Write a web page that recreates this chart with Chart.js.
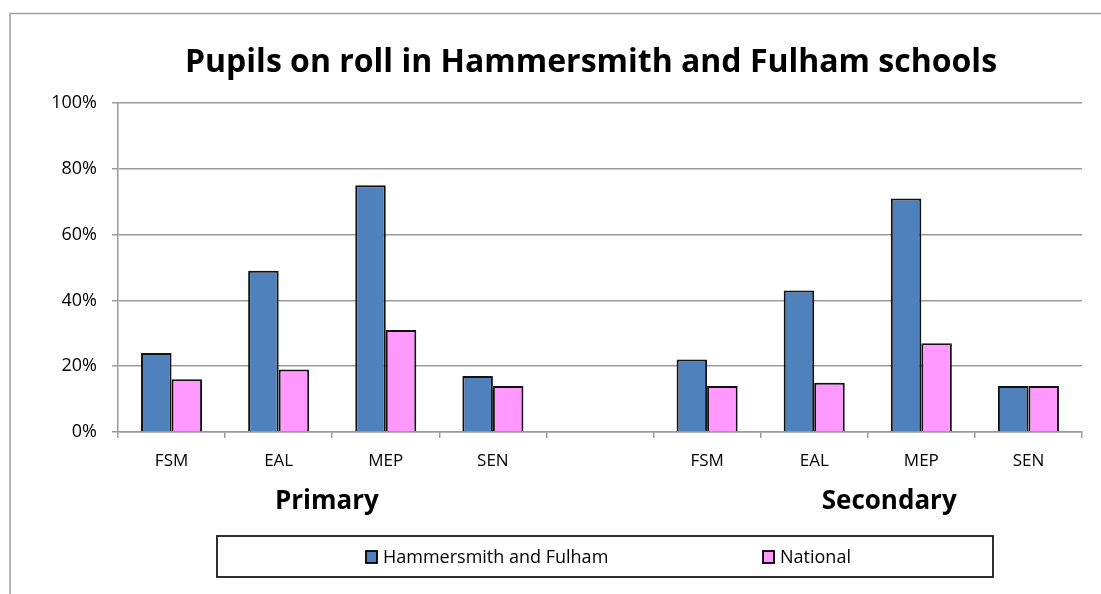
<!DOCTYPE html>
<html>
<head>
<meta charset="utf-8">
<script src="https://cdn.jsdelivr.net/npm/chart.js@4/dist/chart.umd.min.js"></script>
<style>
  html, body { margin: 0; padding: 0; background: #fff; }
  #wrap { position: absolute; left: 0; top: 0; width: 1101px; height: 594px; }
</style>
</head>
<body>
<div id="wrap"><canvas id="c" width="1101" height="594"></canvas></div>
<script>
// ---- data ----
const measures = ['FSM', 'EAL', 'MEP', 'SEN'];
const groupNames = ['Primary', 'Secondary'];
const seriesNames = ['Hammersmith and Fulham', 'National'];
const hfPrimary = [24, 49, 75, 17];
const hfSecondary = [22, 43, 71, 14];
const natPrimary = [16, 19, 31, 14];
const natSecondary = [14, 15, 27, 14];
const yTickValues = [0, 20, 40, 60, 80, 100];
const chartTitle = 'Pupils on roll in Hammersmith and Fulham schools';

// build category axis: primary measures, a blank gap, secondary measures
const labels = [...measures, '', ...measures];
const hfData = [...hfPrimary, null, ...hfSecondary];
const natData = [...natPrimary, null, ...natSecondary];

const FONT = "'Open Sans', 'DejaVu Sans', sans-serif";
const GRID = '#9b9b9b';
const colors = ['#4F81BD', '#FF99FF'];

const framePlugin = {
  id: 'frame',
  beforeDraw(chart) {
    const ctx = chart.ctx;
    ctx.save();
    ctx.strokeStyle = '#a0a0a0';
    ctx.lineWidth = 1.5;
    ctx.beginPath();
    ctx.moveTo(10, 594);
    ctx.lineTo(10, 13.5);
    ctx.lineTo(1101, 13.5);
    ctx.stroke();
    ctx.restore();
  }
};

const extrasPlugin = {
  id: 'extras',
  afterDraw(chart) {
    const ctx = chart.ctx;
    const x = chart.scales.x;
    ctx.save();
    // title
    ctx.fillStyle = '#000';
    ctx.font = 'bold 32px ' + FONT;
    ctx.textAlign = 'center';
    ctx.textBaseline = 'middle';
    ctx.fillText(chartTitle, 591, 63);

    // group labels
    ctx.font = 'bold 26px ' + FONT;
    const groupCenters = [x.getPixelForValue(1.45), x.getPixelForValue(6.7)];
    groupNames.forEach((g, i) => ctx.fillText(g, groupCenters[i], 502));

    // legend box
    const bx = 217, by = 536, bw = 776, bh = 41;
    ctx.fillStyle = '#fff';
    ctx.fillRect(bx, by, bw, bh);
    ctx.strokeStyle = '#1a1a1a';
    ctx.lineWidth = 1.8;
    ctx.strokeRect(bx, by, bw, bh);
    const itemX = [366, 763];
    ctx.font = '18px ' + FONT;
    ctx.textAlign = 'left';
    chart.data.datasets.forEach((ds, i) => {
      ctx.fillStyle = ds.backgroundColor;
      ctx.fillRect(itemX[i], 551, 11, 12);
      ctx.strokeStyle = '#000';
      ctx.lineWidth = 1.8;
      ctx.strokeRect(itemX[i], 551, 11, 12);
      ctx.fillStyle = '#000';
      ctx.fillText(ds.label, itemX[i] + 17, 557.5);
    });
    ctx.restore();
  }
};

new Chart(document.getElementById('c'), {
  type: 'bar',
  data: {
    labels: labels,
    datasets: [
      { label: seriesNames[0], data: hfData, backgroundColor: colors[0], borderColor: '#111', borderWidth: 2 },
      { label: seriesNames[1], data: natData, backgroundColor: colors[1], borderColor: '#111', borderWidth: 2 }
    ]
  },
  options: {
    responsive: false,
    animation: false,
    events: [],
    layout: { padding: { left: 0, right: 19, top: 103, bottom: 0 } },
    datasets: { bar: { categoryPercentage: 0.57, barPercentage: 1.0 } },
    plugins: {
      legend: { display: false },
      tooltip: { enabled: false },
      title: { display: false }
    },
    scales: {
      x: {
        afterFit(scale) { scale.height = 162; },
        grid: { drawOnChartArea: false, drawTicks: true, tickLength: 6, color: GRID, lineWidth: 1.5, offset: true },
        border: { display: true, color: GRID, width: 1.5 },
        ticks: { color: '#000', font: { family: FONT, size: 17 }, padding: 13, autoSkip: false, maxRotation: 0 }
      },
      y: {
        min: yTickValues[0],
        max: yTickValues[yTickValues.length - 1],
        afterFit(scale) { scale.width = 118; },
        grid: { color: GRID, lineWidth: 1.5, tickLength: 6, drawTicks: true },
        border: { display: true, color: GRID, width: 1.5 },
        ticks: {
          color: '#000',
          font: { family: FONT, size: 18 },
          padding: 15,
          stepSize: yTickValues[1] - yTickValues[0],
          autoSkip: false,
          callback: v => v + '%'
        }
      }
    }
  },
  plugins: [framePlugin, extrasPlugin]
});
</script>
</body>
</html>
